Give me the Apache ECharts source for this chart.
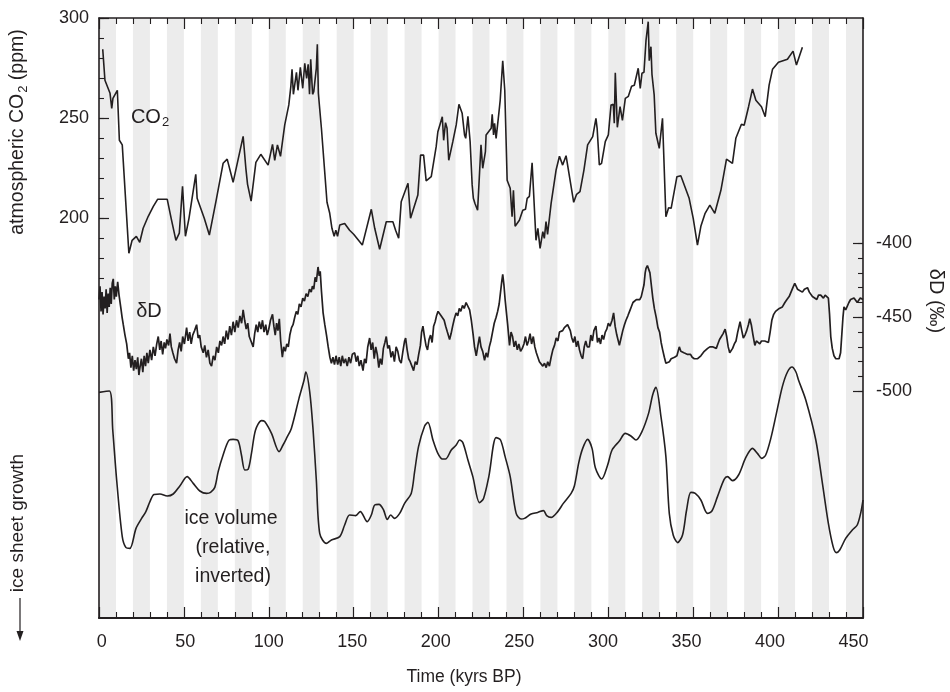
<!DOCTYPE html>
<html><head><meta charset="utf-8">
<script src="https://cdn.jsdelivr.net/npm/echarts@6/dist/echarts.min.js"></script>
<style>html,body{margin:0;padding:0;background:#fff}#c{width:950px;height:692px}</style>
</head><body><div id="c"></div>
<script>
// ---------- data ----------
const xTickLabels = [0, 50, 100, 150, 200, 250, 300, 350, 400, 450];
const co2TickLabels = [200, 250, 300];
const dDTickLabels = [-500, -450, -400];
// glacial/interglacial shading bands (kyr BP)
const bands = [[0,10],[20,30],[40,50],[60,70],[80,90],[100,110],[120,130],[140,150],[160,170],[180,190],[200,210],[220,230],[240,250],[260,270],[280,290],[300,310],[320,330],[340,350],[360,370],[380,390],[400,410],[420,430],[440,450]];

// CO2 (ppm) : [age kyr, value]
const co2 = [[2.2,284.5],[3.5,269],[6.5,262.5],[7.5,255],[8.2,260],[10.8,264],[12,239],[13.7,236.7],[17.6,182.5],[19.5,189],[22,191],[24,188],[26,195],[29,201],[32,206],[34.5,209.5],[40.2,209.5],[42.5,200],[45.3,189],[47.3,192.6],[49.2,216],[50.9,191],[53,200],[57,222],[57.8,210],[62,200],[65,191.6],[69,209],[73.1,227.5],[75.5,229.6],[79,218],[84.9,241],[86.5,225],[87.5,217],[88.5,218],[89.6,208.6],[92.4,228],[95.3,232],[99.6,226.6],[102.2,237],[103.5,229],[105.1,236.7],[106.9,231],[109.4,246.7],[111.8,256.7],[113,266],[113.7,274.5],[114.5,262],[116.3,273],[117.2,264],[118.6,275.5],[120,265],[121.2,277.5],[122.3,270],[123.2,277],[124,262],[124.7,279.5],[125.8,262],[126.5,263.3],[128,275],[128.6,287],[129.2,262.5],[131,245],[134.3,208],[135.9,202.5],[137.2,195],[138.5,191],[139.5,194],[140.5,191],[141.8,196.6],[144.7,197.4],[147.6,194],[150,192],[155.1,186.6],[160.4,204.5],[162.4,195],[165.3,184.5],[169.2,198.3],[173.1,198.3],[174.7,194],[176.5,190],[178,208.3],[182,217.5],[183.5,200],[187.8,211.6],[189.4,231.6],[191.2,231.6],[192.7,218.7],[195.7,220.8],[198.6,235.8],[199.6,243.3],[202.2,250.8],[203,239],[204.1,247.8],[205,245],[206,229],[208.4,238.3],[210.4,246.7],[212,257],[213.9,252.5],[215.3,241.7],[216,240],[217.3,251],[218.6,238.3],[219.8,216.7],[220.5,210],[221.4,207.5],[223,204],[225,236.7],[226,225],[227.6,233.3],[228,241.7],[231,245],[231.6,252],[232.4,241.7],[233,247.5],[233.9,240],[235.5,252.5],[236.3,259],[237.8,278.8],[239,264],[240.4,219],[242.2,215],[243.3,200.8],[244.1,214],[245.1,196],[247.6,199],[249.6,204],[251.2,204.5],[252.2,210],[253.5,211],[255.1,227.8],[256.5,204],[257.4,189],[258.5,195],[259.8,185],[261.4,193.3],[262.3,190],[263.3,198.3],[264.2,192],[266.3,207.5],[269.2,224],[271.2,231],[273.1,226.6],[275.1,231.3],[279.6,208],[281.3,212],[283.3,213.3],[285.6,224],[287.8,236.7],[290.8,240.8],[291.8,241],[292.7,250],[293.4,245],[294.7,226.7],[296,227.5],[298.2,238.3],[300,241.7],[301.6,256.7],[302.9,257],[303.5,247.5],[304.1,272.8],[305.3,245.5],[306.9,255.8],[308.3,249],[310,260],[311.8,261],[313.7,266],[315.3,266.5],[317.6,275],[318.8,265],[319.8,272.5],[321,273],[322.2,289],[323.5,298.3],[324.1,278.8],[325.1,285.8],[325.7,272],[327,261.7],[328,242.5],[330,235],[331.9,250],[333.9,200.8],[335.5,205.3],[337,205],[340.4,220.8],[342.7,221.3],[347.6,210],[350,200],[352.5,186.6],[354.5,196],[357,202.5],[359.8,206.6],[362.7,202.5],[366.3,214],[369.6,229.6],[373.1,227.5],[375.1,240],[378.4,247],[380,246.5],[382.6,255.8],[384.9,264.6],[386.9,259],[390.2,255.8],[392.4,250.8],[394.7,266.6],[396.7,274.5],[400.2,278],[405.5,279.5],[408.8,283.6],[410.8,276.6],[414.3,285.5]];

// deuterium dD (per mil) : [age kyr, value]
const deltaD = [[0,-438],[0.6,-429],[1.2,-446],[1.8,-433],[2.4,-448],[3,-436],[3.6,-444],[4.2,-431],[4.8,-447],[5.4,-434],[6,-443],[6.6,-430],[7.2,-441],[7.8,-427],[8.4,-424],[9,-438],[9.6,-429],[10.2,-436],[11,-426],[11.8,-435],[12.9,-444],[13.6,-450],[14.3,-455],[15.3,-462],[16.3,-468],[17.3,-478],[18,-474],[18.8,-484],[19.6,-476],[20.4,-486],[21.2,-479],[22,-485],[22.8,-477],[23.5,-489],[24.1,-484],[25,-478],[25.8,-487],[26.6,-476],[27.4,-483],[28.2,-474],[29,-481],[30,-472],[31,-479],[32,-470],[33,-476],[34,-468],[34.9,-463],[35.8,-472],[36.6,-466],[37.5,-475],[38.4,-467],[39.2,-471],[40,-465],[41,-469],[41.8,-461],[42.6,-470],[43.5,-474],[44.5,-478],[45.7,-481],[46.6,-472],[47.5,-467],[48.4,-473],[49.3,-463],[50.3,-468],[51.6,-457],[52.5,-466],[53.4,-460],[54.3,-468],[55.2,-462],[56.3,-459],[57.5,-455],[58.4,-464],[59.3,-462],[60.2,-470],[61.4,-474],[62.3,-469],[63.3,-477],[64.3,-472],[65.3,-481],[66.3,-483],[67.3,-476],[68.3,-479],[69.3,-470],[70.3,-474],[71.2,-466],[72.2,-469],[73.1,-463],[74,-468],[75,-459],[76,-465],[77,-456],[78,-462],[79,-453],[80,-460],[81,-452],[82,-457],[83,-449],[84,-454],[84.9,-445],[85.8,-452],[86.7,-458],[87.6,-454],[88.5,-463],[89.5,-466],[90.8,-470],[91.7,-461],[92.6,-455],[93.5,-460],[94.4,-453],[95.4,-458],[96.3,-452],[97.2,-460],[98.2,-455],[99.1,-462],[100,-458],[101,-452],[102.2,-448],[103,-456],[103.8,-462],[104.6,-454],[105.4,-459],[106.2,-451],[107,-466],[108,-477],[108.8,-470],[109.7,-473],[110.6,-468],[111.5,-470],[112.4,-462],[113.4,-457],[114.3,-455],[115.3,-450],[116.2,-446],[117.1,-448],[118,-441],[119,-443],[120,-437],[121,-439],[122,-434],[123,-436],[124,-431],[125,-433],[125.7,-429],[126.5,-431],[127.3,-423],[128,-426],[129,-416],[129.7,-422],[130.3,-419],[131,-432],[132,-447],[133,-455],[134,-462],[135,-470],[136,-477],[136.9,-481],[137.8,-477],[138.7,-482],[139.6,-476],[140.6,-482],[141.5,-477],[142.4,-483],[143.3,-476],[144.2,-481],[145.2,-478],[146.2,-483],[147.2,-477],[148.2,-481],[149.2,-475],[150.6,-474],[151.5,-480],[152.4,-476],[153.3,-483],[154.3,-479],[155.5,-486],[156.4,-478],[157.3,-481],[158.3,-470],[159.4,-464],[160.3,-472],[161.2,-467],[162.1,-478],[163,-470],[163.9,-475],[164.8,-484],[165.7,-478],[166.6,-482],[167.5,-471],[168.4,-467],[169.2,-463],[170.1,-471],[171,-469],[172,-477],[173,-473],[174,-480],[175,-470],[176,-473],[177,-479],[178,-481],[179,-473],[180,-466],[180.6,-464],[181.5,-472],[182.4,-478],[183.3,-480],[184.3,-483],[185.3,-486],[186.3,-480],[187.3,-482],[188.3,-475],[189.3,-469],[190,-460],[190.8,-456],[191.7,-463],[192.6,-469],[193.5,-472],[194.4,-465],[195.3,-462],[196.2,-467],[197.1,-456],[198,-453],[198.8,-449],[199.7,-446],[200.6,-445],[201.5,-449],[202.4,-448],[203.3,-452],[204.2,-456],[205.2,-460],[206.5,-465],[207.4,-461],[208.3,-456],[209.3,-451],[210.3,-447],[211.3,-449],[212.2,-444],[213.1,-446],[214.1,-442],[215.1,-444],[216.2,-440],[217.3,-439],[218.3,-445],[219.3,-452],[220.3,-461],[221.2,-470],[222.2,-476],[223.2,-469],[224.1,-463],[225,-470],[226,-473],[227.1,-479],[228,-474],[228.9,-477],[229.9,-470],[230.8,-466],[231.8,-460],[232.8,-454],[233.9,-450],[234.8,-446],[235.7,-441],[236.5,-433],[237.2,-426],[237.8,-421],[238.5,-428],[239.2,-438],[239.9,-446],[240.7,-455],[241.8,-469],[242.7,-460],[243.6,-463],[244.5,-470],[245.4,-466],[246.4,-472],[247.3,-468],[248.3,-473],[249.3,-471],[250.3,-468],[251.2,-463],[252.1,-469],[253,-466],[253.9,-461],[254.8,-468],[255.8,-463],[256.7,-470],[257.6,-474],[258.5,-477],[259.4,-480],[260.4,-481],[261.4,-483],[262.4,-481],[263.4,-484],[264.3,-480],[265.3,-483],[266.3,-477],[267.3,-472],[268.3,-469],[269.3,-464],[270.3,-466],[271.2,-460],[272.2,-461],[273.1,-459],[274.1,-457],[275,-456],[276,-455],[276.7,-454],[277.6,-459],[278.5,-464],[279.4,-467],[280.3,-463],[281.2,-470],[282.1,-466],[283,-472],[284,-476],[284.9,-478],[285.8,-470],[286.7,-466],[287.6,-470],[288.8,-470],[289.7,-462],[290.6,-466],[291.5,-459],[292.7,-456],[293.6,-467],[294.5,-464],[295.4,-468],[296.3,-462],[297.2,-465],[298.2,-460],[299.1,-458],[300,-454],[301,-456],[302.2,-452],[303.1,-447],[304,-456],[305,-462],[306.5,-469],[307.5,-464],[308.5,-459],[309.5,-455],[310.4,-452],[311.5,-449],[312.5,-446],[313.5,-443],[314.5,-440],[315.5,-441],[316.5,-438],[317.5,-437],[318.5,-438],[319.4,-436],[320.2,-436],[321,-428],[321.7,-420],[322.2,-417],[323,-415],[323.7,-415],[324.5,-420],[325.3,-428],[326.2,-437],[327.1,-444],[328.2,-450],[329.2,-457],[330.2,-460],[331.1,-467],[332,-472],[333,-477],[333.9,-481],[335,-480],[336,-480],[337,-478],[338,-479],[339,-477],[340.4,-476],[341.8,-470],[342.7,-473],[343.6,-472],[344.5,-474],[345.5,-473],[346.4,-475],[347.4,-476],[348.4,-475],[349.4,-477],[350.6,-478],[351.6,-479],[352.6,-478],[353.5,-477],[354.5,-476],[355.5,-475],[356.5,-473],[357.5,-474],[358.5,-471],[359.8,-470],[360.7,-471],[361.7,-470],[362.6,-470],[363.6,-471],[364.5,-468],[365.5,-465],[366.5,-464],[367.6,-461],[368.8,-458],[369.7,-463],[370.6,-470],[371.5,-474],[372.2,-474],[373.2,-471],[374.2,-468],[375.2,-466],[376.2,-460],[377.6,-453],[378.6,-459],[379.5,-464],[380.5,-462],[381.5,-459],[382.5,-455],[383.3,-451],[384.2,-455],[385.2,-462],[386.3,-469],[387.2,-466],[388.2,-467],[389.2,-468],[390.2,-466],[391.1,-467],[392.1,-466],[393.1,-467],[394.3,-467],[395.3,-460],[396.3,-452],[397.4,-448],[398.5,-446],[399.6,-445],[400.7,-444],[402.5,-443],[404,-440],[405.2,-438],[406.5,-436],[407.6,-433],[408.7,-430],[409.8,-427],[410.4,-426],[411.4,-431],[412.5,-432],[414.3,-433],[415.5,-431],[417.3,-430],[418.4,-433],[420.2,-436],[421.5,-437],[422.8,-438],[423.8,-435],[425.1,-435],[426.7,-437],[427.7,-435],[428.5,-435],[429.6,-437],[430.3,-448],[431,-463],[431.9,-471],[432.9,-476],[434,-478],[434.9,-479],[435.9,-478],[436.8,-474],[437.5,-462],[438.2,-450],[438.8,-443],[439.8,-445],[440.8,-444],[441.7,-440],[442.7,-438],[443.7,-437],[444.7,-437],[445.7,-437],[446.6,-440],[447.4,-441],[448.4,-437],[449.2,-437],[450,-438]];

// ice volume (relative units, larger = more ice; plotted inverted)
const iceVolume = [[0,16.2],[6.1,15.5],[8.1,35],[10.4,60],[13.7,88.3],[15.9,93.8],[18.2,94.2],[21.8,84.2],[25.1,79.2],[27.6,75.8],[30,70.8],[32.4,67.2],[35.9,67],[40.2,68],[43.7,67],[47.6,63],[51.9,58.3],[55.5,61.7],[59.4,65.5],[63.4,66.7],[65.7,66.2],[68.2,63.7],[70.2,55.8],[73.1,47.5],[76.7,40],[79,39.7],[81.9,40.3],[83.9,47.5],[85.9,55],[87.8,54.7],[89.8,46.7],[92.2,35],[95.7,30.3],[97.6,30.8],[101.6,36.7],[106.1,45.8],[108.4,42.5],[110.4,39.2],[113.3,34.2],[117.8,19.2],[120.8,10],[121.8,6],[124.1,15.8],[126.1,35],[128,60],[130,86.7],[133.9,91.7],[136.9,90],[141.8,88.3],[144.7,82.5],[147.6,77.5],[151.2,77.8],[153.9,75.8],[158,80.8],[160.4,77.5],[162.4,72.5],[164.9,72.2],[167.6,75],[169.8,79.7],[171.8,77.5],[174.1,79.2],[177.1,76.7],[180,71.7],[183.9,66.7],[185.9,55.8],[188.2,43.3],[191.8,33],[193.7,31.2],[196.7,40],[199.6,46.7],[202.2,49.5],[204.1,49.5],[207.5,45],[210.4,42.5],[212.4,40],[214.3,41.3],[217.3,50],[220.2,58.3],[224.1,71.3],[226.5,69.2],[229.6,58.3],[233.9,38.8],[236.5,40],[239.2,48.3],[242.2,58.3],[245.7,76.7],[248.6,79.5],[250.6,79.2],[254.5,77],[258.4,76.2],[261.8,75.3],[263.7,77.8],[266.3,78.7],[270.2,75.8],[273.5,71.7],[278.1,66.7],[280,63],[282.6,51.3],[284.9,44.2],[287.8,39.7],[290.4,44.2],[292.4,54],[296.1,59.5],[299.6,52.5],[302.2,45],[306.5,40.5],[310,36.7],[313.3,38],[316.3,40],[319.8,35.8],[323.7,26.7],[326.1,17.5],[328,13.7],[331,28.3],[333.9,48.3],[335.9,76.7],[338.2,87.5],[340.8,91.3],[343.7,87.5],[346.1,75],[348.6,66.2],[351.2,66.7],[354.5,70],[358.4,76.7],[361,75.5],[364.3,68.3],[368.2,59.7],[370.2,58.3],[373.1,60.3],[376.7,57.5],[381,48.7],[384.9,44.2],[387.8,46.7],[390.4,49.2],[392.7,47.5],[395.7,39.2],[399,26.7],[402.5,13.3],[405.5,6],[408.2,3.5],[410.5,6],[412,10],[416.3,20],[422.2,40],[426.1,61.7],[429.6,81.7],[432.4,93.3],[434.3,96.3],[436.3,95],[439.8,89.2],[443.7,85],[446.6,82.5],[448.6,76.7],[450,70]];

// ---------- chart ----------
const FONT = "'Liberation Sans', Arial, Helvetica, sans-serif";
const INK = '#231f20';
const chart = echarts.init(document.getElementById('c'), null, {renderer: 'canvas'});

const g = (o) => Object.assign({left: 99, right: 87, containLabel: false, outerBoundsMode: 'none'}, o);
const hiddenX = (gi) => ({gridIndex: gi, type: 'value', min: 0, max: 450, show: false, axisLine: {onZero: false}});
const tickStyle = (w) => ({color: INK, width: w});

const option = {
  animation: false,
  backgroundColor: '#fff',
  grid: [
    g({top: 18, height: 600}),                 // 0 frame
    g({top: 18.3, height: 260}),               // 1 CO2 (170-300)
    g({top: 18.3, height: 200}),               // 2 CO2 major ticks (200-300)
    g({top: 243.3, height: 148}),              // 3 dD minor ticks + data
    g({top: 360, height: 258}),                // 4 ice
    g({left: 101.7, right: 96.5, top: 18, height: 600}), // 5 x labels
    g({top: 243.3, height: 148})               // 6 dD major ticks + labels
  ],
  xAxis: [
    {gridIndex: 0, type: 'value', min: 0, max: 450, interval: 50, position: 'bottom', z: 10,
      axisLine: {onZero: false, lineStyle: {color: INK, width: 2.2}},
      axisTick: {inside: true, length: 11, lineStyle: tickStyle(1.2)},
      minorTick: {show: true, splitNumber: 5, length: 6, lineStyle: tickStyle(1.1)},
      axisLabel: {show: false}, splitLine: {show: false}},
    {gridIndex: 0, type: 'value', min: 0, max: 450, interval: 50, position: 'top', z: 10,
      axisLine: {onZero: false, lineStyle: {color: INK, width: 1.5}},
      axisTick: {inside: true, length: 11, lineStyle: tickStyle(1.2)},
      minorTick: {show: true, splitNumber: 5, length: 6, lineStyle: tickStyle(1.1)},
      axisLabel: {show: false}, splitLine: {show: false}},
    hiddenX(1), hiddenX(2), hiddenX(3), hiddenX(4),
    {gridIndex: 5, type: 'value', min: 0, max: 450, interval: 50, position: 'bottom', z: 10,
      axisLine: {show: false, onZero: false}, axisTick: {show: false}, splitLine: {show: false},
      axisLabel: {show: true, margin: 15, fontSize: 18, fontFamily: FONT, color: INK,
        formatter: (v) => xTickLabels.includes(v) ? String(v) : ''}},
    hiddenX(6)
  ],
  yAxis: [
    {gridIndex: 0, type: 'value', min: 0, max: 1, position: 'left', z: 10,
      axisLine: {show: true, onZero: false, lineStyle: {color: INK, width: 1.6}},
      axisTick: {show: false}, axisLabel: {show: false}, splitLine: {show: false}},
    {gridIndex: 0, type: 'value', min: 0, max: 1, position: 'right', z: 10,
      axisLine: {show: true, onZero: false, lineStyle: {color: INK, width: 1.6}},
      axisTick: {show: false}, axisLabel: {show: false}, splitLine: {show: false}},
    {gridIndex: 1, type: 'value', min: 170, max: 300, interval: 10, position: 'left', z: 10,
      axisLine: {show: false, onZero: false}, axisTick: {show: true, inside: true, length: 5, lineStyle: tickStyle(1.1)},
      axisLabel: {show: false}, splitLine: {show: false}},
    {gridIndex: 2, type: 'value', min: 200, max: 300, interval: 50, position: 'left', z: 10,
      axisLine: {show: false, onZero: false}, axisTick: {show: true, inside: true, length: 10, lineStyle: tickStyle(1.2)},
      axisLabel: {show: true, margin: 10, fontSize: 18, fontFamily: FONT, color: INK,
        formatter: (v) => co2TickLabels.includes(v) ? String(v) : ''},
      splitLine: {show: false}},
    {gridIndex: 3, type: 'value', min: -500, max: -400, interval: 10, position: 'right', z: 10,
      axisLine: {show: false, onZero: false}, axisTick: {show: true, inside: true, length: 5, lineStyle: tickStyle(1.1)},
      axisLabel: {show: false}, splitLine: {show: false}},
    {gridIndex: 6, type: 'value', min: -500, max: -400, interval: 50, position: 'right', z: 10,
      axisLine: {show: false, onZero: false}, axisTick: {show: true, inside: true, length: 10, lineStyle: tickStyle(1.2)},
      axisLabel: {show: true, margin: 13, fontSize: 18, fontFamily: FONT, color: INK,
        formatter: (v) => dDTickLabels.includes(v) ? String(v) : ''},
      splitLine: {show: false}},
    {gridIndex: 4, type: 'value', min: 0, max: 129, inverse: true, show: false, axisLine: {onZero: false}},
    {gridIndex: 5, type: 'value', min: 0, max: 1, show: false, axisLine: {onZero: false}}
  ],
  series: [
    {type: 'line', xAxisIndex: 0, yAxisIndex: 0, data: [], silent: true, z: 1,
      markArea: {silent: true, itemStyle: {color: '#ececec'},
        data: bands.map(b => [{xAxis: b[0]}, {xAxis: b[1]}])}},
    {name: 'CO2', type: 'line', xAxisIndex: 2, yAxisIndex: 2, data: co2, showSymbol: false, symbol: 'none',
      lineStyle: {color: INK, width: 1.6}, z: 5},
    {name: 'dD', type: 'line', xAxisIndex: 4, yAxisIndex: 4, data: deltaD, showSymbol: false, symbol: 'none',
      lineStyle: {color: INK, width: 1.7}, z: 5},
    {name: 'ice', type: 'line', xAxisIndex: 5, yAxisIndex: 6, data: iceVolume, showSymbol: false, symbol: 'none',
      smooth: 0.3, lineStyle: {color: INK, width: 1.6}, z: 5}
  ],
  graphic: [
    {type: 'text', x: 150, y: 117, z: 10, style: {text: '{a|CO}{b|2}', textAlign: 'center', textVerticalAlign: 'middle',
      fill: INK, rich: {a: {fontSize: 20, fontFamily: FONT, fill: INK}, b: {fontSize: 13, fontFamily: FONT, fill: INK, verticalAlign: 'bottom', padding: [11, 0, 0, 1]}}}},
    {type: 'text', x: 149, y: 311, z: 10, style: {text: 'δD', fontSize: 20, fontFamily: FONT, fill: INK, textAlign: 'center', textVerticalAlign: 'middle'}},
    {type: 'text', x: 231, y: 519, z: 10, style: {text: 'ice volume', fontSize: 19.5, fontFamily: FONT, fill: INK, textAlign: 'center', textVerticalAlign: 'middle'}},
    {type: 'text', x: 233, y: 548, z: 10, style: {text: '(relative,', fontSize: 19.5, fontFamily: FONT, fill: INK, textAlign: 'center', textVerticalAlign: 'middle'}},
    {type: 'text', x: 233, y: 577, z: 10, style: {text: 'inverted)', fontSize: 19.5, fontFamily: FONT, fill: INK, textAlign: 'center', textVerticalAlign: 'middle'}},
    {type: 'text', x: 18, y: 132, rotation: Math.PI / 2, z: 10, style: {text: '{a|atmospheric CO}{b|2}{a| (ppm)}', textAlign: 'center', textVerticalAlign: 'middle',
      fill: INK, rich: {a: {fontSize: 19.5, fontFamily: FONT, fill: INK}, b: {fontSize: 13, fontFamily: FONT, fill: INK, verticalAlign: 'bottom', padding: [10, 0, 0, 1]}}}},
    {type: 'text', x: 936, y: 301, rotation: -Math.PI / 2, z: 10, style: {text: 'δD (‰)', fontSize: 20, fontFamily: FONT, fill: INK, textAlign: 'center', textVerticalAlign: 'middle'}},
    {type: 'text', x: 18, y: 523, rotation: Math.PI / 2, z: 10, style: {text: 'ice sheet growth', fontSize: 19, fontFamily: FONT, fill: INK, textAlign: 'center', textVerticalAlign: 'middle'}},
    {type: 'line', z: 10, shape: {x1: 20, y1: 598, x2: 20, y2: 634}, style: {stroke: INK, lineWidth: 1.2}},
    {type: 'polygon', z: 10, shape: {points: [[16.5, 631], [23.5, 631], [20, 641]]}, style: {fill: INK}},
    {type: 'text', x: 464, y: 677, z: 10, style: {text: 'Time (kyrs BP)', fontSize: 17.5, fontFamily: FONT, fill: INK, textAlign: 'center', textVerticalAlign: 'middle'}}
  ]
};
chart.setOption(option);
</script>
</body></html>
